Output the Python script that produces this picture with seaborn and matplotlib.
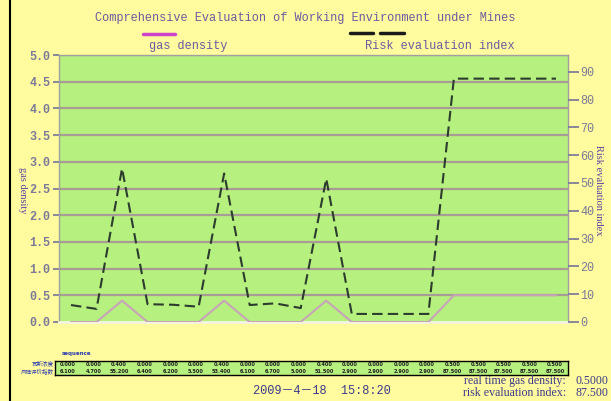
import matplotlib
matplotlib.use("Agg")
import matplotlib.pyplot as plt
import seaborn as sns
import pandas as pd
import numpy as np

# ---- data ----
sample_index = list(range(20))
gas_density = [0.0, 0.0, 0.4, 0.0, 0.0, 0.0, 0.4, 0.0, 0.0, 0.0,
               0.4, 0.0, 0.0, 0.0, 0.0, 0.5, 0.5, 0.5, 0.5, 0.5]
risk_index = [6.1, 4.7, 55.2, 6.4, 6.2, 5.5, 53.4, 6.1, 6.7, 5.0,
              51.5, 2.9, 2.9, 2.9, 2.9, 87.5, 87.5, 87.5, 87.5, 87.5]
left_ticks = [0.0, 0.5, 1.0, 1.5, 2.0, 2.5, 3.0, 3.5, 4.0, 4.5, 5.0]
right_ticks = [0, 10, 20, 30, 40, 50, 60, 70, 80, 90]
title_text = "Comprehensive Evaluation of Working Environment under Mines"
gas_label = "gas density"
risk_label = "Risk evaluation index"
row_labels = ["瓦斯浓度", "风险评价指数"]
date_text = "2009－4－18  15:8:20"
rt_gas_label = "real time gas density:"
rt_gas_value = "0.5000"
rt_risk_label = "risk evaluation index:"
rt_risk_value = "87.500"

df = pd.DataFrame({"idx": sample_index, "gas": gas_density, "risk": risk_index})

sns.set_theme(style="white")
MONO = ["Liberation Mono", "Noto Sans CJK SC", "DejaVu Sans"]
plt.rcParams["font.family"] = MONO

BG = "#fffb9e"
GREEN = "#b6f07e"
GRID = "#a89c94"
TXT = "#6a5a9e"
TICK = "#7a7a98"

W, H = 611, 401
fig = plt.figure(figsize=(W / 100, H / 100), dpi=100, facecolor=BG)

def fx(px):
    return px / W

def fy(py):
    return 1 - py / H

L, R, T, B = 59, 568, 55, 322
ax = fig.add_axes([fx(L), fy(B), fx(R) - fx(L), fy(T) - fy(B)])
ax.set_facecolor(GREEN)

ax.set_ylim(0, 5)
ax.set_xlim(-0.47, 19.47)
ax.set_yticks(left_ticks)
ax.set_yticklabels([f"{v:.1f}" for v in left_ticks], color=TICK, fontsize=8.5,
                   fontweight="bold")
ax.grid(False)
for v in left_ticks[1:]:
    ax.axhline(v, color=GRID, lw=1.6, zorder=1)
ax.set_xticks([])
ax.tick_params(axis="y", direction="out", length=4, color=TICK, pad=2)
for s in ax.spines.values():
    s.set_color("#a0a0a0")
    s.set_linewidth(1.0)
ax.spines["bottom"].set_color("#f4f4e0")
ax.spines["bottom"].set_linewidth(2)

sns.lineplot(data=df, x="idx", y="gas", ax=ax, color="#c8a4b8", lw=1.5, zorder=3)
ax.set_xlabel("")
ax.set_ylabel("")

ax2 = ax.twinx()
sns.lineplot(data=df, x="idx", y="risk", ax=ax2, color="#2c3c2e", lw=1.5,
             zorder=4)
ax2.lines[0].set_dashes([5, 2.5])
ax2.set_ylim(0, 96)
ax2.set_yticks(right_ticks)
ax2.set_yticklabels([str(v) for v in right_ticks], color=TICK, fontsize=8.5)
ax2.tick_params(axis="y", direction="out", length=8, color=TICK, pad=1)
ax2.set_xlabel("")
ax2.set_ylabel("")
for s in ax2.spines.values():
    s.set_visible(False)
ax2.set_xlim(-0.47, 19.47)

# axis labels
fig.text(fx(22), fy(190), gas_label, rotation=-90, color="#5a40a0",
         fontsize=7.5, ha="center", va="center", family=["Liberation Serif"])
fig.text(fx(598), fy(190), risk_label, rotation=-90, color="#5a40a0",
         fontsize=7.5, ha="center", va="center", family=["Liberation Serif"])

# title & legend
fig.text(fx(305), fy(18), title_text, color=TXT, fontsize=8.6,
         ha="center", va="center")
fig.add_artist(plt.Line2D([fx(143), fx(175)], [fy(34), fy(34)],
                          color="#cc44cc", lw=2.5))
fig.text(fx(188), fy(46), gas_label, color=TXT, fontsize=8.6,
         ha="center", va="center")
fig.add_artist(plt.Line2D([fx(350), fx(373)], [fy(33), fy(33)],
                          color="#1a1a1a", lw=2.5))
fig.add_artist(plt.Line2D([fx(380), fx(404)], [fy(33), fy(33)],
                          color="#1a1a1a", lw=2.5))
fig.text(fx(440), fy(46), risk_label, color=TXT, fontsize=8.6,
         ha="center", va="center")

# left border line
fig.add_artist(plt.Line2D([fx(10), fx(10)], [0, 1], color="black", lw=1.5))

# data table
fig.text(fx(62), fy(353), "sequence", color="#2a3ab0", fontsize=4,
         fontweight="bold", ha="left", va="center", family=["DejaVu Sans"])
tx0, tx1, ty0, ty1 = 55, 568, 361, 375
axt = fig.add_axes([fx(tx0), fy(ty1), fx(tx1) - fx(tx0), fy(ty0) - fy(ty1)])
axt.set_facecolor(GREEN)
axt.set_xticks([])
axt.set_yticks([])
for s in axt.spines.values():
    s.set_color("black")
    s.set_linewidth(1)
n = len(sample_index)
for i in sample_index:
    xc = (i + 0.5) / n
    axt.text(xc, 0.72, f"{gas_density[i]:.3f}", fontsize=3.6, ha="center",
             va="center", color="#202020", fontweight="bold",
             family=["DejaVu Sans"])
    axt.text(xc, 0.27, f"{risk_index[i]:.3f}", fontsize=3.6, ha="center",
             va="center", color="#202020", fontweight="bold",
             family=["DejaVu Sans"])
fig.text(fx(54), fy(364), row_labels[0], color="#2a3ab0", fontsize=4,
         ha="right", va="center", family=["Noto Sans CJK SC"])
fig.text(fx(54), fy(371), row_labels[1], color="#2a3ab0", fontsize=4,
         ha="right", va="center", family=["Noto Sans CJK SC"])

# bottom texts
SERIF = ["Liberation Serif"]
fig.text(fx(322), fy(391), date_text, color="#3a3a8a", fontsize=8.6,
         ha="center", va="center")
fig.text(fx(566), fy(381), rt_gas_label, color="#3a3a8a", fontsize=8.6,
         ha="right", va="center", family=SERIF)
fig.text(fx(608), fy(381), rt_gas_value, color="#3a3a8a", fontsize=8.6,
         ha="right", va="center", family=SERIF)
fig.text(fx(566), fy(393), rt_risk_label, color="#3a3a8a", fontsize=8.6,
         ha="right", va="center", family=SERIF)
fig.text(fx(608), fy(393), rt_risk_value, color="#3a3a8a", fontsize=8.6,
         ha="right", va="center", family=SERIF)

fig.savefig("out.png", dpi=100, facecolor=BG)
